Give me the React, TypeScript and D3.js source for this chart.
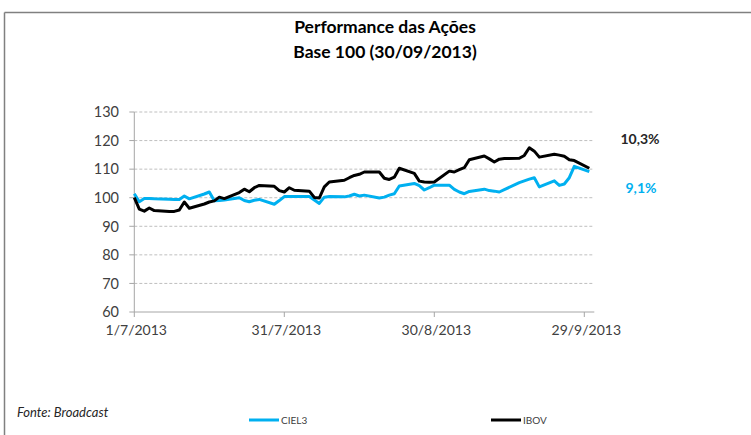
import React from "react";
import * as d3 from "d3";

const dates: string[] = [
  "2013-07-01","2013-07-02","2013-07-03","2013-07-04","2013-07-05","2013-07-08","2013-07-09","2013-07-10","2013-07-11","2013-07-12",
  "2013-07-15","2013-07-16","2013-07-17","2013-07-18","2013-07-19","2013-07-22","2013-07-23","2013-07-24","2013-07-25","2013-07-26",
  "2013-07-29","2013-07-30","2013-07-31",
  "2013-08-01","2013-08-02","2013-08-05","2013-08-06","2013-08-07","2013-08-08","2013-08-09","2013-08-12","2013-08-13","2013-08-14",
  "2013-08-15","2013-08-16","2013-08-19","2013-08-20","2013-08-21","2013-08-22","2013-08-23","2013-08-26","2013-08-27","2013-08-28",
  "2013-08-29","2013-08-30",
  "2013-09-02","2013-09-03","2013-09-04","2013-09-05","2013-09-06","2013-09-09","2013-09-10","2013-09-11","2013-09-12","2013-09-13",
  "2013-09-16","2013-09-17","2013-09-18","2013-09-19","2013-09-20","2013-09-23","2013-09-24","2013-09-25","2013-09-26","2013-09-27",
  "2013-09-30",
];

const ibov: number[] = [
  100, 96.0, 95.3, 96.4, 95.5, 95.2, 95.2, 95.7, 98.5, 96.3,
  97.8, 98.5, 98.9, 100.2, 99.7, 101.8, 103.0, 102.1, 103.5, 104.3,
  104.0, 102.5, 102.0,
  103.5, 102.6, 102.3, 100.1, 99.9, 103.8, 105.5, 106.1, 107.0,
  107.8, 108.2, 109.0, 109.0, 106.8, 106.4, 107.2, 110.3, 108.5, 105.8,
  105.5, 105.4, 105.5,
  109.3, 109.0, 109.8, 110.5, 113.3, 114.6, 113.6, 112.5, 113.5, 113.7,
  113.8, 114.8, 117.5, 116.3, 114.2, 115.2, 114.9, 114.5, 113.3, 113.0,
  110.3,
];

const ciel3: number[] = [
  101.4, 98.6, 99.7, 99.7, 99.6, 99.5, 99.4, 99.4, 100.6, 99.6,
  101.3, 102.0, 98.9, 99.0, 99.2, 100.0, 99.0, 98.6, 99.1, 99.4,
  97.7, 99.0, 100.4,
  100.4, 100.4, 100.4, 99.2, 98.0, 100.2, 100.4, 100.3, 100.6,
  101.2, 100.6, 100.9, 99.9, 100.2, 100.9, 101.4, 104.1, 105.0, 104.2,
  102.7, 103.5, 104.4,
  104.4, 102.9, 102.0, 101.4, 102.2, 103.0, 102.5, 102.3, 102.0, 102.8,
  105.3, 105.9, 106.5, 107.0, 103.8, 105.9, 104.3, 104.8, 107.0, 111.0,
  109.1,
];

const yTicks: number[] = [60, 70, 80, 90, 100, 110, 120, 130];
const xTickDates: string[] = ["2013-07-01", "2013-07-31", "2013-08-30", "2013-09-29"];
const xTickLabels: string[] = ["1/7/2013", "31/7/2013", "30/8/2013", "29/9/2013"];
const seriesNames: string[] = ["CIEL3", "IBOV"];
const endLabels: string[] = ["9,1%", "10,3%"];
const titleLines: string[] = ["Performance das Ações", "Base 100 (30/09/2013)"];
const sourceText = "Fonte: Broadcast";

const BLUE = "#00b0f0";
const BLACK = "#000000";
const FONT = "Lato, 'Open Sans', sans-serif";

const parse = d3.timeParse("%Y-%m-%d");

export default function App() {
  const W = 751, H = 435;
  const x = d3.scaleTime()
    .domain([parse("2013-07-01")!, parse("2013-10-01")!])
    .range([134.3, 594.3]);
  const y = d3.scaleLinear().domain([60, 130]).range([312, 112]);

  const line = d3.line<[Date, number]>()
    .x((d) => x(d[0]))
    .y((d) => y(d[1]));

  const dd = dates.map((s) => parse(s)!);
  const ibovPts: [Date, number][] = dd.map((d, i) => [d, ibov[i]]);
  const cielPts: [Date, number][] = dd.map((d, i) => [d, ciel3[i]]);

  const x0 = x.range()[0];
  const x1 = x.range()[1];

  const lastIbov = ibov[ibov.length - 1];
  const lastCiel = ciel3[ciel3.length - 1];

  return (
    <svg
      width={W}
      height={H}
      style={{ position: "absolute", left: 0, top: 0, background: "#fff" }}
      fontFamily={FONT}
    >
      <rect x={0} y={0} width={W} height={H} fill="#fff" />
      {/* frame */}
      <line x1={4.5} y1={12.5} x2={W} y2={12.5} stroke="#808080" strokeWidth={1.5} />
      <line x1={4.5} y1={12.5} x2={4.5} y2={H} stroke="#808080" strokeWidth={1.5} />

      {/* title */}
      {titleLines.map((t, i) => (
        <text key={t} x={385} y={33 + i * 25} textAnchor="middle" fontSize={17.5} fontWeight="bold" fill="#000">
          {t}
        </text>
      ))}

      {/* gridlines */}
      {yTicks.filter((v) => v !== 60).map((v) => (
        <line key={v} x1={x0} x2={x1} y1={y(v)} y2={y(v)} stroke="#bfbfbf" strokeWidth={1} strokeDasharray="3,2" />
      ))}

      {/* axes */}
      <line x1={x0} x2={x0} y1={y(130)} y2={y(60)} stroke="#a6a6a6" strokeWidth={1} />
      <line x1={x0} x2={x1} y1={y(60)} y2={y(60)} stroke="#a6a6a6" strokeWidth={1} />
      {yTicks.map((v) => (
        <g key={v}>
          <line x1={x0 - 5} x2={x0} y1={y(v)} y2={y(v)} stroke="#a6a6a6" strokeWidth={1} />
          <text x={119} y={y(v)} dy="0.36em" textAnchor="end" fontSize={14.5} fill="#404040">
            {v}
          </text>
        </g>
      ))}
      {xTickDates.map((s, i) => {
        const xp = x(parse(s)!);
        return (
          <g key={s}>
            <line x1={xp} x2={xp} y1={y(60)} y2={y(60) + 5} stroke="#a6a6a6" strokeWidth={1} />
            <text x={xp + 2} y={335} textAnchor="middle" fontSize={14} fill="#404040">
              {xTickLabels[i]}
            </text>
          </g>
        );
      })}

      {/* series */}
      <path d={line(cielPts)!} fill="none" stroke={BLUE} strokeWidth={3} strokeLinejoin="round" />
      <path d={line(ibovPts)!} fill="none" stroke={BLACK} strokeWidth={3} strokeLinejoin="round" />

      {/* end labels */}
      <text x={640} y={144} textAnchor="middle" fontSize={14} fontWeight="bold" fill="#262626">
        {endLabels[1]}
      </text>
      <text x={641} y={193} textAnchor="middle" fontSize={14} fontWeight="bold" fill={BLUE}>
        {endLabels[0]}
      </text>
      {/* keep values referenced */}
      <desc>{`${lastIbov} ${lastCiel}`}</desc>

      {/* source */}
      <text x={17} y={417} fontSize={13} fontStyle="italic" fill="#262626">
        {sourceText}
      </text>

      {/* legend */}
      <line x1={249} x2={279} y1={420} y2={420} stroke={BLUE} strokeWidth={3} />
      <text x={281} y={423.5} fontSize={10} fill="#404040">{seriesNames[0]}</text>
      <line x1={491} x2={521} y1={420} y2={420} stroke={BLACK} strokeWidth={3} />
      <text x={523} y={423.5} fontSize={10} fill="#404040">{seriesNames[1]}</text>
    </svg>
  );
}
